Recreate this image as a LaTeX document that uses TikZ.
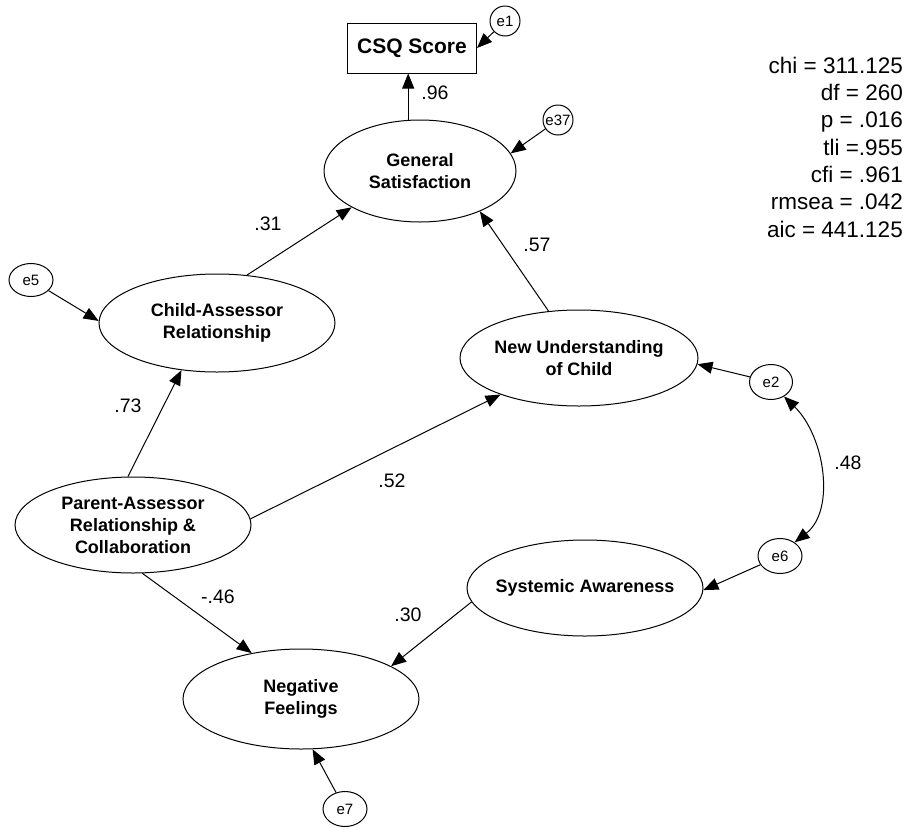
\documentclass[tikz,border=0pt]{standalone}
\usepackage{fontspec}
\setmainfont{Liberation Sans}
\usetikzlibrary{shapes.geometric,arrows.meta}
\begin{document}
\begin{tikzpicture}[x=1pt,y=-1pt,
  lat/.style={draw, ellipse, line width=1pt, minimum width=236pt, minimum height=96pt,
    inner xsep=-15pt, inner ysep=0pt, align=center, font=\fontsize{18}{22}\selectfont\bfseries},
  err/.style={draw, ellipse, line width=1pt, minimum width=44pt, minimum height=35pt,
    inner xsep=-5pt, inner ysep=0pt, font=\fontsize{15}{18}\selectfont},
  errs/.style={err, minimum width=30pt, minimum height=30pt},
  coef/.style={font=\fontsize{19.5}{22}\selectfont, inner sep=0pt},
  stat/.style={font=\fontsize{22.5}{27}\selectfont, anchor=base east, inner sep=0pt},
  tip/.tip={Triangle[length=15pt,width=12pt]},
  arr/.style={line width=1pt, -tip},
  dblarr/.style={line width=1pt, tip-tip},
]
\path[use as bounding box] (0,0) rectangle (906,828);

% nodes
\node[draw, line width=1pt, minimum width=129pt, minimum height=50pt, inner sep=0pt,
  font=\fontsize{21}{24}\selectfont\bfseries] (csq) at (412,48) {CSQ Score};
\node[errs] (e1) at (505,21) {e1};
\node[lat, minimum width=192pt, minimum height=102pt] (gs) at (420,171) {General\\Satisfaction};
\node[errs] (e37) at (558,120) {e37};
\node[lat, minimum height=98pt] (car) at (217,323) {Child-Assessor\\Relationship};
\node[err, minimum height=33pt] (e5) at (31,280) {e5};
\node[lat, minimum width=238pt] (nu) at (579,358) {New Understanding\\of Child};
\node[err, minimum width=43pt] (e2) at (771,382) {e2};
\node[lat] (par) at (133,525) {Parent-Assessor\\Relationship \&\\Collaboration};
\node[lat] (sa) at (585,588) {Systemic Awareness};
\node[err] (e6) at (780,556) {e6};
\node[lat, minimum height=100pt] (nf) at (301,699) {Negative\\Feelings};
\node[err] (e7) at (345,809) {e7};

% coefficients
\node[coef] (l96) at (435,93) {.96};
\node[coef] (l31) at (268,224) {.31};
\node[coef] (l57) at (537,245) {.57};
\node[coef] (l73) at (128,406) {.73};
\node[coef] (l52) at (392,481) {.52};
\node[coef] (l46) at (218,597) {-.46};
\node[coef] (l30) at (408,615) {.30};
\node[coef] (l48) at (848,463) {.48};

% fit statistics
\node[stat] (s1) at (903,73) {chi = 311.125};
\node[stat] (s2) at (903,100.3) {df = 260};
\node[stat] (s3) at (903,127.6) {p = .016};
\node[stat] (s4) at (903,155) {tli =.955};
\node[stat] (s5) at (903,182.3) {cfi = .961};
\node[stat] (s6) at (903,209.6) {rmsea = .042};
\node[stat] (s7) at (903,237) {aic = 441.125};

% paths
\draw[arr] (gs.103) -- (gs.103 |- csq.south);
\draw[arr] (e1) -- (csq.east);
\draw[arr] (e37) -- (gs.11);
\draw[arr] (car.58) -- (gs.208);
\draw[arr] (nu.123) -- (gs.326);
\draw[arr] (par.96) -- (car.233);
\draw[arr] (par.3) -- (nu.205);
\draw[arr] (par.281) -- (nf.137);
\draw[arr] (sa.187) -- (nf.20);
\draw[arr] (e7) -- (nf.283);
\draw[arr] (e2) -- (nu.357);
\draw[arr] (e6) -- (sa.359);
\draw[arr] (e5) -- (car.179);
\draw[dblarr] (e2.312) .. controls +(41,40) and +(41,-32) .. (e6.43);
\end{tikzpicture}
\end{document}
